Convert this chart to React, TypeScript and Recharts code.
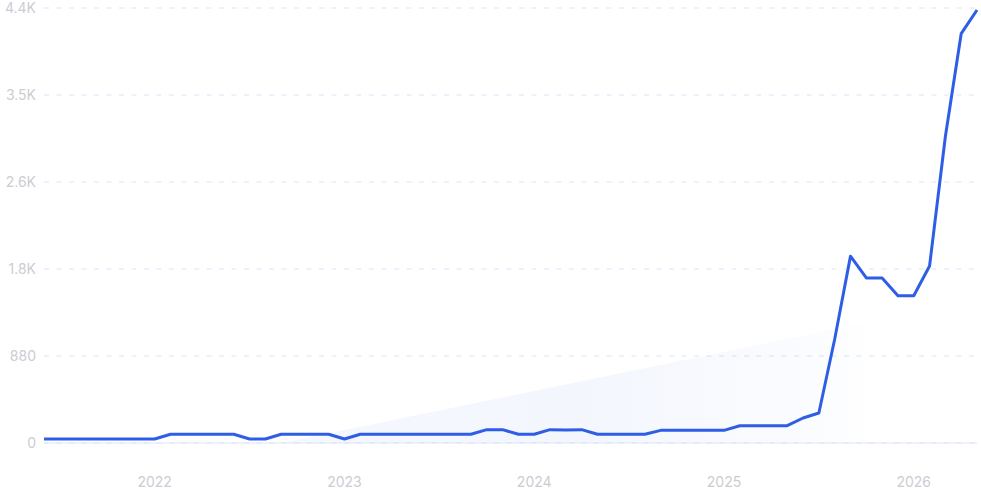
import React from 'react';
import { ComposedChart, Line, Area, XAxis, YAxis, CartesianGrid } from 'recharts';

// monthly points, Jun 2021 .. May 2026
const months = [
  '2021-06', '2021-07', '2021-08', '2021-09', '2021-10', '2021-11', '2021-12',
  '2022-01', '2022-02', '2022-03', '2022-04', '2022-05', '2022-06', '2022-07', '2022-08', '2022-09', '2022-10', '2022-11', '2022-12',
  '2023-01', '2023-02', '2023-03', '2023-04', '2023-05', '2023-06', '2023-07', '2023-08', '2023-09', '2023-10', '2023-11', '2023-12',
  '2024-01', '2024-02', '2024-03', '2024-04', '2024-05', '2024-06', '2024-07', '2024-08', '2024-09', '2024-10', '2024-11', '2024-12',
  '2025-01', '2025-02', '2025-03', '2025-04', '2025-05', '2025-06', '2025-07', '2025-08', '2025-09', '2025-10', '2025-11', '2025-12',
  '2026-01', '2026-02', '2026-03', '2026-04', '2026-05',
];

const volume = [
  40, 40, 40, 40, 40, 40, 40,
  40, 88, 88, 88, 88, 88, 40, 40, 88, 88, 88, 88,
  40, 88, 88, 88, 88, 88, 88, 88, 88, 135, 135, 88,
  88, 135, 132, 135, 88, 88, 88, 88, 128, 128, 128, 128,
  128, 175, 175, 175, 175, 253, 303, 1050, 1890, 1670, 1670, 1490,
  1490, 1790, 3100, 4140, 4380,
];

// faint trend wedge behind the line
const trendPoints = [
  { month: '2022-09', value: 0 },
  { month: '2025-11', value: 1250 },
];

const yearTicks = ['2022-01', '2023-01', '2024-01', '2025-01', '2026-01'];
const valueTicks = [0, 880, 1760, 2640, 3520, 4400];

const data = months.map((m, i) => {
  const t = trendPoints.find(p => p.month === m);
  return { month: m, value: volume[i], trend: t ? t.value : null };
});

const fmtValue = (v: number) => (v >= 1000 ? (v / 1000).toFixed(1) + 'K' : String(v));

export default function App() {
  return (
    <div style={{ position: 'fixed', left: 0, top: 0, width: 981, height: 500, background: '#fff', fontFamily: 'Inter, sans-serif' }}>
      <ComposedChart width={981} height={500} data={data} margin={{ top: 8, right: 4, bottom: 0, left: 0 }}>
        <defs>
          <linearGradient id="trendFill" x1="0" y1="0" x2="1" y2="0">
            <stop offset="0%" stopColor="#3a6ee8" stopOpacity={0.05} />
            <stop offset="50%" stopColor="#3a6ee8" stopOpacity={0.06} />
            <stop offset="85%" stopColor="#3a6ee8" stopOpacity={0.025} />
            <stop offset="100%" stopColor="#3a6ee8" stopOpacity={0} />
          </linearGradient>
        </defs>
        <CartesianGrid vertical={false} stroke="#d9e3fb" strokeDasharray="5 7.5" />
        <XAxis
          dataKey="month"
          scale="point"
          ticks={yearTicks}
          tickFormatter={(m: string) => m.slice(0, 4)}
          axisLine={{ stroke: '#dde5f7' }}
          tickLine={false}
          tickMargin={28}
          height={57}
          tick={{ fontSize: 14, fill: '#cbccd4' }}
        />
        <YAxis
          domain={[0, 4400]}
          ticks={valueTicks}
          tickFormatter={fmtValue}
          axisLine={false}
          tickLine={false}
          width={44}
          tick={{ fontSize: 14, fill: '#cbccd4' }}
        />
        <Area
          type="linear"
          dataKey="trend"
          connectNulls
          stroke="none"
          fill="url(#trendFill)"
          fillOpacity={1}
          isAnimationActive={false}
          dot={false}
          activeDot={false}
        />
        <Line
          type="linear"
          dataKey="value"
          stroke="#2e5ee6"
          strokeWidth={3}
          strokeLinejoin="round"
          dot={false}
          activeDot={false}
          isAnimationActive={false}
        />
      </ComposedChart>
    </div>
  );
}
